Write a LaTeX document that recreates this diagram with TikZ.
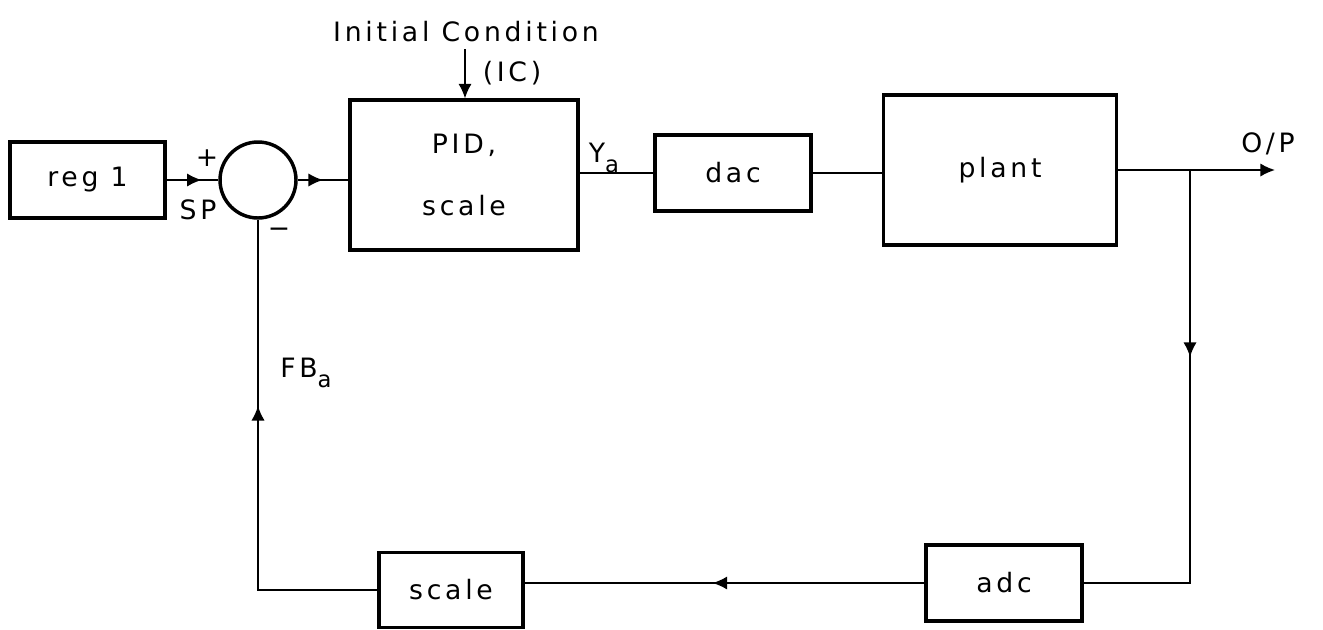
\documentclass[tikz,border=0pt]{standalone}
\usepackage{fontspec}
\setmainfont{DejaVu Sans}[LetterSpace=14]
\usetikzlibrary{arrows.meta,decorations.markings,shapes.geometric}
\newcommand\dlab{\fontsize{20}{46}\selectfont}
\newcommand\sbs[1]{\raisebox{-0.4em}{\fontsize{17}{17}\selectfont #1}}
\begin{document}
\begin{tikzpicture}[x=0.75pt,y=-0.75pt,
  blk/.style={draw, line width=2.3pt, inner sep=0pt, font=\dlab, align=center},
  conn/.style={line width=1.4pt},
  tip/.style={-{Latex[length=11pt,width=10pt]}},
  midarr/.style={postaction={decorate}, decoration={markings, mark=at position #1 with {\arrow{Latex[length=11pt,width=10pt]}}}},
  lab/.style={font=\dlab, inner sep=0pt}]
\useasboundingbox (0,0) rectangle (1323,629);
% blocks
\node[blk, minimum width=116.25pt, minimum height=57pt] (reg) at (87.5,180) {reg 1};
\node[draw, circle, line width=2.6pt, minimum size=57pt, inner sep=0pt] (sum) at (258,180) {};
\node[blk, minimum width=171pt, minimum height=112.5pt] (pid) at (464,175) {PID,\\scale};
\node[blk, minimum width=117pt, minimum height=57pt] (dac) at (733,173) {dac};
\node[blk, minimum width=174.75pt, minimum height=112.5pt] (plant) at (1000,170) {plant};
\node[blk, minimum width=117pt, minimum height=57pt] (adc) at (1004,583) {adc};
\node[blk, minimum width=108pt, minimum height=56.25pt] (scl) at (451,590) {scale};
% labels
\node[lab] (plus) at (207,158) {+};
\node[lab] (sp) at (198,210) {SP};
\node[lab] (minus) at (279,233) {−};
\node[lab] (ic) at (466,32) {Initial Condition};
\node[lab] (icb) at (512,73) {(IC)};
\node[lab] (ya) at (604,158) {Y\sbs{a}};
\node[lab] (op) at (1268,144) {O/P};
\node[lab] (fb) at (306,373) {FB\sbs{a}};
% coordinates
\coordinate (icstart) at (465,49);
\coordinate (br) at (1190,170);
\coordinate (outend) at (1275,170);
\coordinate (bc) at (1190,583);
% connectors
\draw[conn, midarr=0.68] (reg.east) -- (sum.west);
\draw[conn, midarr=0.5] (sum.east) -- (pid.west |- sum.east);
\draw[conn, tip] (icstart) -- (icstart |- pid.north);
\draw[conn] (dac.west -| pid.east) -- (dac.west);
\draw[conn] (dac.east) -- (dac.east -| plant.west);
\draw[conn, tip] (plant.east) -- (outend);
\draw[conn, midarr=0.36] (br) -- (bc) -- (adc.east);
\draw[conn, midarr=0.53] (adc.west) -- (adc.west -| scl.east);
\draw[conn, midarr=0.62] (scl.west) -- (scl.west -| sum.south) -- (sum.south);
\end{tikzpicture}
\end{document}
